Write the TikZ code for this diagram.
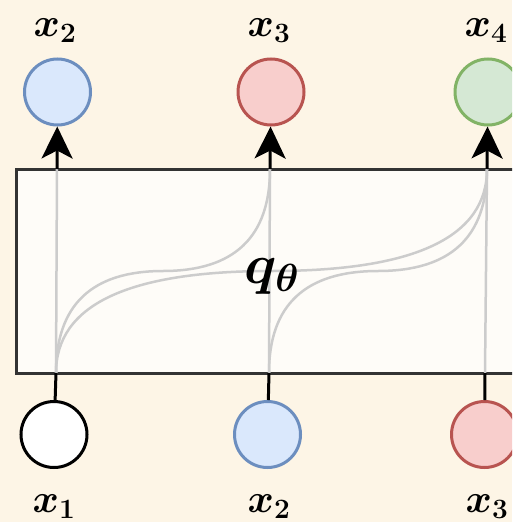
\RequirePackage{fix-cm}
\documentclass[tikz,border=0pt]{standalone}
\usepackage{amsmath}
\usepackage{bm}
\usetikzlibrary{arrows.meta}
\definecolor{bgc}{RGB}{253,245,230}
\definecolor{boxfill}{RGB}{254,252,248}
\definecolor{boxline}{RGB}{51,51,51}
\definecolor{edgegray}{RGB}{204,204,204}
\definecolor{bluefill}{RGB}{218,232,252}
\definecolor{blueline}{RGB}{108,142,191}
\definecolor{redfill}{RGB}{248,206,204}
\definecolor{redline}{RGB}{184,84,80}
\definecolor{greenfill}{RGB}{213,232,212}
\definecolor{greenline}{RGB}{130,179,102}
\begin{document}
\begin{tikzpicture}[x=1pt,y=-1pt,
  varnode/.style={circle, line width=3pt, minimum size=66pt, inner sep=0pt},
  lbl/.style={inner sep=0pt, anchor=base, font=\fontsize{40}{48}\selectfont},
  qlbl/.style={inner sep=0pt, anchor=base, font=\fontsize{56}{66}\selectfont},
  boxstyle/.style={draw=boxline, fill=boxfill, line width=3pt, rectangle, minimum width=620pt, minimum height=204pt, anchor=north west, outer sep=0pt, inner sep=0pt},
  flow/.style={draw=edgegray, line width=2.5pt},
  link/.style={draw=black, line width=3pt},
  arr/.style={link, -{Stealth[length=32pt, width=31pt, inset=8pt]}}
]
\useasboundingbox (0,0) rectangle (512,522);
\clip (0,0) rectangle (512,522);
\fill[bgc] (0,0) rectangle (512,522);

% model box
\node[boxstyle] (box) at (16,169) {};

% anchor points on the box
\coordinate (b1) at (56,373);
\coordinate (b2) at (269,373);
\coordinate (b3) at (485,373);
\coordinate (e1) at (57,169);
\coordinate (e2) at (270,169);
\coordinate (e3) at (487,169);
\coordinate (m12) at (163,271);
\coordinate (m13) at (271.5,271);
\coordinate (m23) at (378,271);

% internal flows
\draw[flow] (b1) -- (e1);
\draw[flow] (b2) -- (e2);
\draw[flow] (b3) -- (e3);
\draw[flow] (b1) .. controls (56,305) and (91.7,271) .. (m12) .. controls (234.3,271) and (270,237) .. (e2);
\draw[flow] (b1) .. controls (56,305) and (127.8,271) .. (m13) .. controls (415.2,271) and (487,237) .. (e3);
\draw[flow] (b2) .. controls (269,305) and (305.3,271) .. (m23) .. controls (450.7,271) and (487,237) .. (e3);

\node[qlbl] (q) at (272,283) {$\bm{q_\theta}$};

% output variables
\node[varnode, draw=blueline, fill=bluefill] (t1) at (57.5,92) {};
\node[varnode, draw=redline, fill=redfill] (t2) at (271,92) {};
\node[varnode, draw=greenline, fill=greenfill] (t3) at (488,92) {};

% input variables
\node[varnode, draw=black, fill=white] (c1) at (54,434.5) {};
\node[varnode, draw=blueline, fill=bluefill] (c2) at (267.5,434.5) {};
\node[varnode, draw=redline, fill=redfill] (c3) at (484.5,434.5) {};

% connectors
\draw[link] (c1) -- (b1);
\draw[link] (c2) -- (b2);
\draw[link] (c3) -- (b3);
\draw[arr] (e1) -- (t1);
\draw[arr] (e2) -- (t2);
\draw[arr] (e3) -- (t3);

% labels
\node[lbl] (lt1) at (55,36) {$\bm{x_2}$};
\node[lbl] (lt2) at (269,36) {$\bm{x_3}$};
\node[lbl] (lt3) at (486,36) {$\bm{x_4}$};
\node[lbl] (lc1) at (54,512) {$\bm{x_1}$};
\node[lbl] (lc2) at (269,512) {$\bm{x_2}$};
\node[lbl] (lc3) at (487,512) {$\bm{x_3}$};
\end{tikzpicture}
\end{document}
